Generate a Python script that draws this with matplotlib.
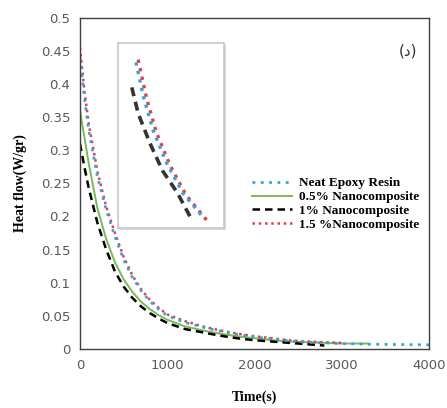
import matplotlib.pyplot as plt
import matplotlib.patches as mpatches

# time axis (s) and heat flow (W/gr)
t = [0, 50, 100, 200, 300, 400, 500, 600, 700, 800, 900, 1000, 1200, 1400,
     1600, 1800, 2000, 2200, 2400, 2600, 2800]
neat = [0.44, 0.38, 0.33, 0.26, 0.21, 0.17, 0.135, 0.108, 0.088, 0.072, 0.060,
        0.050, 0.040, 0.033, 0.027, 0.022, 0.018, 0.015, 0.012, 0.010, 0.009]
neat_tail_t = [3000, 3300, 4000]
neat_tail = [0.008, 0.007, 0.006]
nc05 = [0.36, 0.32, 0.28, 0.212, 0.166, 0.131, 0.105, 0.086, 0.071, 0.060, 0.051,
        0.044, 0.034, 0.028, 0.023, 0.019, 0.016, 0.013, 0.011, 0.010, 0.009]
nc05_tail_t = [3000, 3300]
nc05_tail = [0.008, 0.008]
nc1 = [0.31, 0.275, 0.243, 0.19, 0.15, 0.117, 0.094, 0.077, 0.064, 0.054, 0.046,
       0.039, 0.030, 0.025, 0.020, 0.016, 0.013, 0.011, 0.009, 0.007, 0.005]
nc15 = [0.455, 0.39, 0.34, 0.268, 0.215, 0.175, 0.139, 0.111, 0.090, 0.074, 0.062,
        0.052, 0.042, 0.034, 0.028, 0.023, 0.019, 0.016, 0.013, 0.011, 0.010]
nc15_tail_t = [3000]
nc15_tail = [0.009]

# magnified picture in the inset box (relative units)
ins_neat_x = [0.16, 0.24, 0.33, 0.46, 0.61, 0.80]
ins_neat_y = [0.92, 0.71, 0.53, 0.35, 0.19, 0.06]
ins_nc15_x = [0.19, 0.27, 0.36, 0.49, 0.64, 0.84]
ins_nc15_y = [0.91, 0.70, 0.52, 0.34, 0.18, 0.04]
ins_nc1_x = [0.13, 0.19, 0.30, 0.42, 0.56, 0.70]
ins_nc1_y = [0.76, 0.62, 0.46, 0.31, 0.19, 0.04]

labels = ['Neat Epoxy Resin', '0.5% Nanocomposite', '1% Nanocomposite',
          '1.5 %Nanocomposite']
blue = '#3aa3d6'
green = '#7cb85a'
red = '#e0404a'

fig = plt.figure(figsize=(4.47, 4.08), dpi=100)
ax = fig.add_axes([0.179, 0.145, 0.781, 0.811])

ax.plot(t + nc05_tail_t, nc05 + nc05_tail, color=green, lw=1.4, label=labels[1])
ax.plot(t, nc1, color='black', lw=1.8, ls=(0, (3, 2)), label=labels[2])
ax.plot(t + nc15_tail_t, nc15 + nc15_tail, color=red, lw=1.8, ls=(0, (1, 1.5)), label=labels[3])
ax.plot(t + neat_tail_t, neat + neat_tail, color=blue, lw=2, ls=(0, (1, 2)), label=labels[0])

ax.set_xlim(0, 4000)
ax.set_ylim(0, 0.5)
ax.set_xticks([0, 1000, 2000, 3000, 4000])
ax.set_yticks([0, 0.05, 0.1, 0.15, 0.2, 0.25, 0.3, 0.35, 0.4, 0.45, 0.5])
ax.set_yticklabels(['0', '0.05', '0.1', '0.15', '0.2', '0.25', '0.3', '0.35',
                    '0.4', '0.45', '0.5'])
ax.tick_params(length=0, labelsize=9.5, labelcolor='#595959', pad=7)
for s in ax.spines.values():
    s.set_color('#404040')
    s.set_linewidth(1)

ax.set_xlabel('Time(s)', family='Liberation Serif', fontweight='bold',
              fontsize=10, labelpad=14)
ax.set_ylabel('Heat flow(W/gr)', family='Liberation Serif', fontweight='bold',
              fontsize=10, labelpad=10)
ax.text(0.965, 0.9, '(د)', transform=ax.transAxes, ha='right', va='center',
        fontsize=11, color='#333333')

h, l = ax.get_legend_handles_labels()
order = [3, 0, 1, 2]
ax.legend([h[i] for i in order], [l[i] for i in order], loc='upper left',
          bbox_to_anchor=(0.46, 0.555), frameon=False, handlelength=3.0,
          handletextpad=0.5, labelspacing=0.12,
          prop={'family': 'Liberation Serif', 'weight': 'bold', 'size': 9.5})

# inset box with shadow
shadow = mpatches.Rectangle((120 / 447, (408 - 230) / 408), 106 / 447, 185 / 408,
                            transform=fig.transFigure, facecolor='#d9d9d9',
                            edgecolor='none', zorder=3)
fig.patches.append(shadow)
ins = fig.add_axes([118 / 447, (408 - 228) / 408, 106 / 447, 185 / 408], zorder=4)
ins.plot(ins_nc1_x, ins_nc1_y, color='#333333', lw=2.6, ls=(0, (2.5, 1.6)))
ins.plot(ins_nc15_x, ins_nc15_y, color=red, lw=2.4, ls=(0, (1, 1.6)))
ins.plot(ins_neat_x, ins_neat_y, color=blue, lw=2.4, ls=(1.2, (1, 1.6)))
ins.set_xlim(0, 1)
ins.set_ylim(0, 1)
ins.set_xticks([])
ins.set_yticks([])
for s in ins.spines.values():
    s.set_color('#c8c8c8')
    s.set_linewidth(1.2)

fig.savefig('out.png', dpi=100)
